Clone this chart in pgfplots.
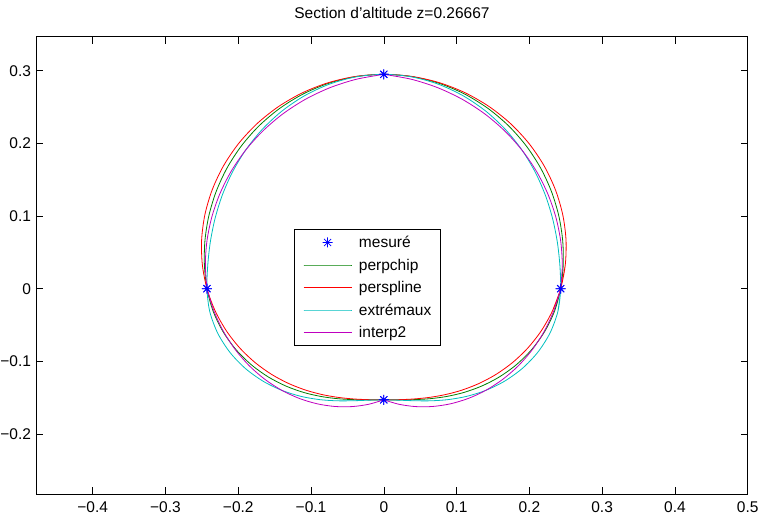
\documentclass[border=0pt]{standalone}
\usepackage{pgfplots}
\pgfplotsset{compat=1.18}
\usepackage{fontspec}
\setmainfont{Liberation Sans}
\definecolor{mblue}{rgb}{0,0,1}
\definecolor{mgreen}{rgb}{0,0.5,0}
\definecolor{mred}{rgb}{1,0,0}
\definecolor{mcyan}{rgb}{0,0.75,0.75}
\definecolor{mmag}{rgb}{0.75,0,0.75}
\pgfdeclareplotmark{mstar}{%
  \pgfpathmoveto{\pgfqpoint{-\pgfplotmarksize}{0pt}}\pgfpathlineto{\pgfqpoint{\pgfplotmarksize}{0pt}}%
  \pgfpathmoveto{\pgfqpoint{0pt}{-\pgfplotmarksize}}\pgfpathlineto{\pgfqpoint{0pt}{\pgfplotmarksize}}%
  \pgfpathmoveto{\pgfqpoint{-0.7071\pgfplotmarksize}{-0.7071\pgfplotmarksize}}\pgfpathlineto{\pgfqpoint{0.7071\pgfplotmarksize}{0.7071\pgfplotmarksize}}%
  \pgfpathmoveto{\pgfqpoint{-0.7071\pgfplotmarksize}{0.7071\pgfplotmarksize}}\pgfpathlineto{\pgfqpoint{0.7071\pgfplotmarksize}{-0.7071\pgfplotmarksize}}%
  \pgfusepathqstroke}
\newcommand{\mfont}{\fontsize{15.5}{18}\selectfont}
\begin{document}
\mfont
\begin{tikzpicture}
\begin{axis}[
  scale only axis, width=711.4pt, height=457.3pt,
  xmin=-0.4775, xmax=0.5, ymin=-0.2826, ymax=0.3468,
  xtick={-0.4,-0.3,-0.2,-0.1,0,0.1,0.2,0.3,0.4,0.5},
  xticklabels={−0.4,−0.3,−0.2,−0.1,0,0.1,0.2,0.3,0.4,0.5},
  ytick={-0.2,-0.1,0,0.1,0.2,0.3},
  yticklabels={−0.2,−0.1,0,0.1,0.2,0.3},
  tick align=inside, major tick length=7pt,
  tick style={black, line width=0.6pt},
  axis line style={black, line width=0.8pt},
  tick label style={font=\mfont},
  xticklabel style={anchor=base, yshift=-18.7pt},
  yticklabel style={anchor=east},
  title={Section d'altitude z=0.26667},
  title style={at={(0.5,1)}, anchor=base, yshift=11.7pt, font=\mfont},
  legend style={at={(axis cs:-0.1229,0.0822)}, anchor=north west, draw=black, line width=0.6pt, fill=white,
    inner xsep=8.5pt, inner ysep=7pt, row sep=10pt, font=\mfont,
    nodes={inner xsep=0pt, inner ysep=0pt, text height=11.5pt, text depth=1pt},
    /tikz/every odd column/.append style={column sep=7pt}},
  legend cell align=left,
  legend image code/.code={\draw[mark repeat=2,mark phase=2,#1] plot coordinates {(0pt,0pt) (24pt,0pt) (48pt,0pt)};},
  every axis plot/.append style={line width=0.8pt},
]
\addplot[only marks, mark=mstar, mark size=5pt, color=mblue]
  coordinates {(0,0.295) (0.243,0) (0,-0.153) (-0.243,0)};
\addlegendentry{mesuré}
% perpchip
\addplot[smooth, color=mgreen] coordinates {
(0.23459,-0.03088) (0.243,0) (0.24651,0.03245) (0.24581,0.06587) (0.24057,0.09965) (0.23058,0.13312)
(0.21572,0.16553) (0.19604,0.19604) (0.17174,0.22382) (0.14320,0.24803) (0.11097,0.26789)
(0.07575,0.28270) (0.03843,0.29188) (0,0.295)
(-0.03843,0.29188) (-0.07575,0.28270) (-0.11097,0.26789) (-0.14320,0.24803) (-0.17174,0.22382)
(-0.19604,0.19604) (-0.21572,0.16553) (-0.23058,0.13312) (-0.24057,0.09965) (-0.24581,0.06587)
(-0.24651,0.03245) (-0.243,0)
(-0.23459,-0.03088) (-0.22091,-0.05919) (-0.20295,-0.08406) (-0.18178,-0.10495) (-0.15851,-0.12163)
(-0.13418,-0.13418) (-0.10969,-0.14295) (-0.08573,-0.14848) (-0.06275,-0.15149) (-0.04093,-0.15275)
(-0.02015,-0.15303) (0,-0.153)
(0.02015,-0.15303) (0.04093,-0.15275) (0.06275,-0.15149) (0.08573,-0.14848) (0.10969,-0.14295)
(0.13418,-0.13418) (0.15851,-0.12163) (0.18178,-0.10495) (0.20295,-0.08406) (0.22091,-0.05919)
(0.23459,-0.03088) (0.243,0) (0.24651,0.03245)};
\addlegendentry{perpchip}
% perspline
\addplot[smooth, color=mred] coordinates {
(0.23177,-0.03051) (0.243,0) (0.24933,0.03283) (0.25035,0.06708) (0.24585,0.10183) (0.23578,0.13613)
(0.22028,0.16903) (0.19963,0.19963) (0.17424,0.22708) (0.14470,0.25063) (0.11169,0.26965)
(0.07599,0.28361) (0.03846,0.29213) (0,0.295)
(-0.03846,0.29213) (-0.07599,0.28361) (-0.11169,0.26965) (-0.14470,0.25063) (-0.17424,0.22708)
(-0.19963,0.19963) (-0.22028,0.16903) (-0.23578,0.13613) (-0.24585,0.10183) (-0.25035,0.06708)
(-0.24933,0.03283) (-0.243,0)
(-0.23177,-0.03051) (-0.21637,-0.05798) (-0.19767,-0.08188) (-0.17657,-0.10195) (-0.15395,-0.11813)
(-0.13059,-0.13059) (-0.10718,-0.13968) (-0.08422,-0.14588) (-0.06202,-0.14973) (-0.04069,-0.15185)
(-0.02011,-0.15278) (0,-0.153)
(0.02011,-0.15278) (0.04069,-0.15185) (0.06202,-0.14973) (0.08422,-0.14588) (0.10718,-0.13968)
(0.13059,-0.13059) (0.15395,-0.11813) (0.17657,-0.10195) (0.19767,-0.08188) (0.21637,-0.05798)
(0.23177,-0.03051) (0.243,0) (0.24933,0.03283)};
\addlegendentry{perspline}
% extremaux
\addplot[smooth, color=mcyan] coordinates {
(0.23917,-0.03149) (0.243,0) (0.24194,0.03185) (0.23844,0.06389) (0.23201,0.09610) (0.22212,0.12824)
(0.20830,0.15984) (0.19021,0.19021) (0.16768,0.21852) (0.14076,0.24380) (0.10978,0.26504)
(0.07536,0.28123) (0.03837,0.29146) (0,0.295)
(-0.03837,0.29146) (-0.07536,0.28123) (-0.10978,0.26504) (-0.14076,0.24380) (-0.16768,0.21852)
(-0.19021,0.19021) (-0.20830,0.15984) (-0.22212,0.12824) (-0.23201,0.09610) (-0.23844,0.06389)
(-0.24194,0.03185) (-0.243,0)
(-0.23917,-0.03149) (-0.22828,-0.06117) (-0.21151,-0.08761) (-0.19024,-0.10983) (-0.16593,-0.12732)
(-0.14001,-0.14001) (-0.11375,-0.14824) (-0.08817,-0.15271) (-0.06393,-0.15435) (-0.04133,-0.15423)
(-0.02020,-0.15345) (0,-0.153)
(0.02020,-0.15345) (0.04133,-0.15423) (0.06393,-0.15435) (0.08817,-0.15271) (0.11375,-0.14824)
(0.14001,-0.14001) (0.16593,-0.12732) (0.19024,-0.10983) (0.21151,-0.08761) (0.22828,-0.06117)
(0.23917,-0.03149) (0.243,0) (0.24194,0.03185)};
\addlegendentry{extrémaux}
% interp2 (four arcs)
\addplot[smooth, color=mmag] coordinates {
(0.243,0) (0.24522,0.03228) (0.24309,0.06514) (0.23651,0.09797) (0.22546,0.13017) (0.20998,0.16112)
(0.19021,0.19021) (0.16639,0.21685) (0.13883,0.24047) (0.10792,0.26053) (0.07411,0.27658)
(0.03794,0.28818) (0,0.295)};
\addlegendentry{interp2}
\addplot[smooth, color=mmag, forget plot] coordinates {
(0,0.295) (-0.03794,0.28818) (-0.07411,0.27658) (-0.10792,0.26053) (-0.13883,0.24047) (-0.16639,0.21685)
(-0.19021,0.19021) (-0.20998,0.16112) (-0.22546,0.13017) (-0.23651,0.09797) (-0.24309,0.06514)
(-0.24522,0.03228) (-0.243,0)};
\addplot[smooth, color=mmag, forget plot] coordinates {
(-0.243,0) (-0.23349,-0.03074) (-0.22023,-0.05901) (-0.20372,-0.08438) (-0.18446,-0.10650)
(-0.16303,-0.12510) (-0.14001,-0.14001) (-0.11597,-0.15113) (-0.09150,-0.15848) (-0.06716,-0.16214)
(-0.04348,-0.16228) (-0.02095,-0.15913) (0,-0.153)};
\addplot[smooth, color=mmag, forget plot] coordinates {
(0,-0.153) (0.02095,-0.15913) (0.04348,-0.16228) (0.06716,-0.16214) (0.09150,-0.15848)
(0.11597,-0.15113) (0.14001,-0.14001) (0.16303,-0.12510) (0.18446,-0.10650) (0.20372,-0.08438)
(0.22023,-0.05901) (0.23349,-0.03074) (0.243,0)};
\addplot[only marks, mark=mstar, mark size=5pt, color=mblue, forget plot]
  coordinates {(0,0.295) (0.243,0) (0,-0.153) (-0.243,0)};
\end{axis}
\pgfresetboundingbox
\path[use as bounding box] ([xshift=-36.3pt,yshift=-21pt]current axis.south west) rectangle ([xshift=15.3pt,yshift=36.7pt]current axis.north east);
\end{tikzpicture}
\end{document}
